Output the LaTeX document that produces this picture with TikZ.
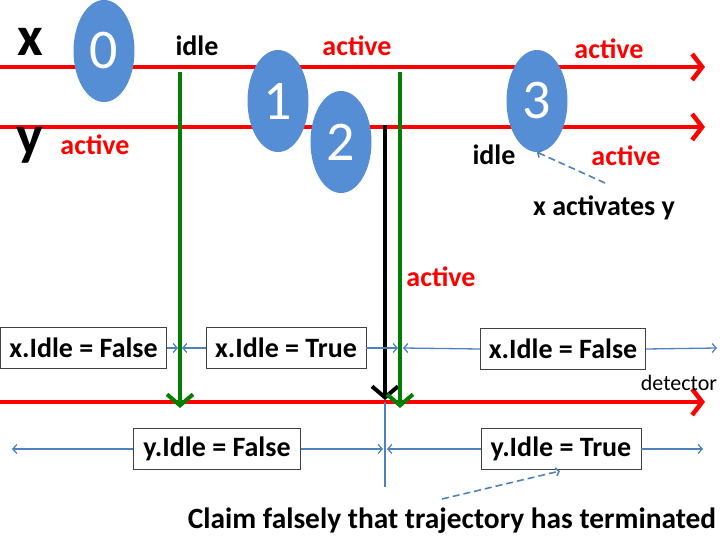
\documentclass[tikz,border=0pt]{standalone}
\usepackage{fontspec}
\setmainfont{Carlito}
\usetikzlibrary{arrows.meta,shapes.geometric}
\definecolor{bubbleblue}{RGB}{85,142,213}
\definecolor{spanblue}{RGB}{79,129,189}
\definecolor{darkgreen}{RGB}{0,128,0}
\tikzset{
	track/.style={draw=red, line width=4.5pt, -{Straight Barb[length=10pt,width=26pt]}},
	bubble/.style={ellipse, fill=bubbleblue, text=white, minimum width=61pt, minimum height=102pt, inner sep=0pt, font=\fontsize{56}{56}\selectfont},
	probe/.style={line width=4pt, -{Straight Barb[length=11pt,width=26pt]}},
	flag/.style={draw=black!75, line width=0.8pt, fill=white, inner sep=0pt, minimum height=41pt, font=\bfseries\fontsize{28}{28}\selectfont},
	span/.style={draw=spanblue, line width=1.3pt, -{Straight Barb[length=4pt,width=9pt]}},
	note/.style={font=\bfseries\fontsize{28}{28}\selectfont},
	pointer/.style={draw=spanblue, line width=1.6pt, dash pattern=on 7pt off 4pt, -{Straight Barb[length=3pt,width=8pt]}},
	var/.style={font=\bfseries\fontsize{56}{56}\selectfont}
}

\begin{document}
\begin{tikzpicture}[x=1pt,y=-1pt]
		%%%%% START %%%%%
		\useasboundingbox (0,0) rectangle (720,540);
		
		% process lines
		\coordinate (xs) at (0,67);
		\coordinate (xe) at (705,67);
		\coordinate (ys) at (0,127);
		\coordinate (ye) at (705,127);
		\coordinate (ds) at (0,402);
		\coordinate (de) at (705,402);
		\draw[track] (xs) -- (xe);
		\draw[track] (ys) -- (ye);
		\draw[track] (ds) -- (de);
		
		\node[var] (xname) at (30,42) {x};
		\node[var] (yname) at (30,145) {y};
		
		% messages down to the detector
		\coordinate (g1) at (180,72);
		\coordinate (g1e) at (180,408);
		\coordinate (g2) at (400,72);
		\coordinate (g2e) at (400,408);
		\coordinate (k1) at (385,125);
		\coordinate (k1e) at (385,400);
		\draw[probe, draw=darkgreen] (g1) -- (g1e);
		\draw[probe, draw=black] (k1) -- (k1e);
		\draw[probe, draw=darkgreen] (g2) -- (g2e);
		
		\node[bubble] (b0) at (104,51) {0};
		\node[bubble] (b1) at (278,101) {1};
		\node[bubble] (b2) at (341,142) {2};
		\node[bubble] (b3) at (537,101) {3};
		
		\node[note] (idx) at (197,46) {idle};
		\node[note, text=red] (act1) at (357,46) {active};
		\node[note, text=red] (act2) at (609,49) {active};
		\node[note, text=red] (act3) at (95,145) {active};
		\node[note] (idy) at (494,155) {idle};
		\node[note, text=red] (act4) at (626,156) {active};
		\node[note, text=red] (act5) at (441,277) {active};
		\node[note] (wake) at (604,208) {x activates y};
		\node[font=\fontsize{22}{22}\selectfont] (det) at (679,383) {detector};
		
		\draw[pointer] (605,183) -- (b3.south);
		
		% what the detector believes
		\node[flag, minimum width=166pt] (xf1) at (83.5,348) {x.Idle = False};
		\node[flag, minimum width=160pt] (xt) at (286,348) {x.Idle = True};
		\node[flag, minimum width=165pt] (xf2) at (563,349) {x.Idle = False};
		\node[flag, minimum width=167pt] (yf) at (217,449) {y.Idle = False};
		\node[flag, minimum width=160pt] (yt) at (561,449) {y.Idle = True};
		
		\draw[span] (xf1.east) -- (178,348);
		\draw[span] (xt.west) -- (182,348);
		\draw[span] (xt.east) -- (398,348);
		\draw[span] (xf2.west) -- (403,348);
		\draw[span] (xf2.east) -- (717,348);
		
		\draw[span] (yf.west) -- (12,449);
		\draw[span] (yf.east) -- (383,449);
		\draw[span] (yt.west) -- (387,449);
		\draw[span] (yt.east) -- (703,449);
		\draw[spanblue, line width=1.3pt] (385,402) -- (385,487);
		
		\node[note, font=\bfseries\fontsize{29.4}{29.4}\selectfont] (claim) at (452,521) {Claim falsely that trajectory has terminated};
		\draw[pointer] (442,499) -- (560,471);
		%%%%% END %%%%%
	\end{tikzpicture}
\end{document}
